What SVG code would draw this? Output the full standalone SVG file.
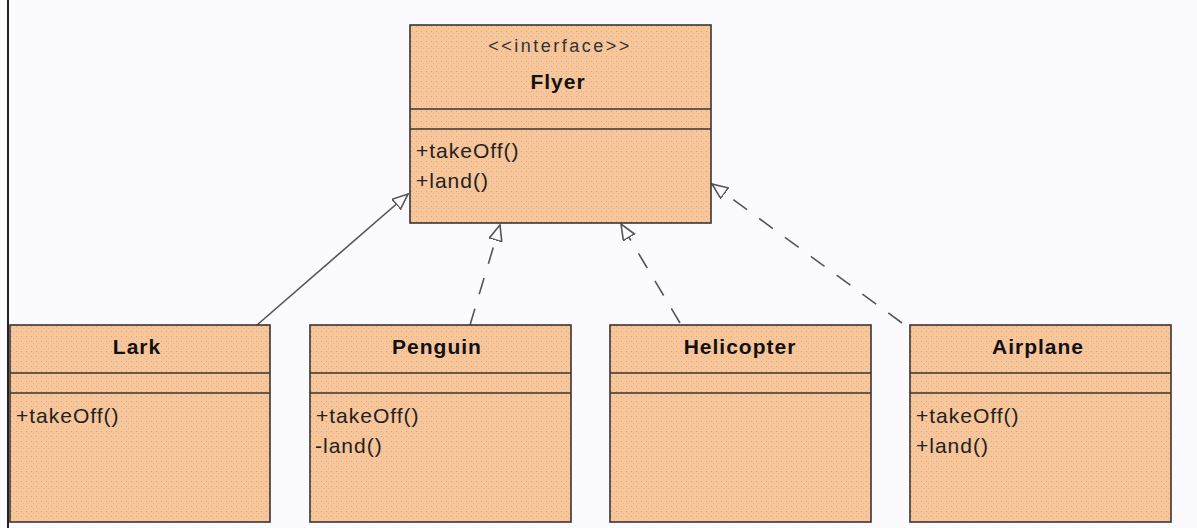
<svg xmlns="http://www.w3.org/2000/svg" width="1197" height="528" viewBox="0 0 1197 528">
<style>
.box{fill:url(#stip);stroke:#3b3530;stroke-width:1.6}
.div{stroke:#3b3530;stroke-width:1.6}
.t{font-family:"Liberation Sans",Arial,sans-serif;font-size:21px;fill:#111;letter-spacing:1px}
.b{font-weight:bold;text-anchor:middle}
.st{font-size:18px;fill:#333;text-anchor:middle;letter-spacing:2.5px}
.m{fill:#222}
.c{fill:none;stroke:#555;stroke-width:1.6}
.d{stroke-dasharray:17,15}
</style>
<defs>
<pattern id="stip" width="5" height="5" patternUnits="userSpaceOnUse">
<rect width="5" height="5" fill="#f8c69b"/>
<rect x="1" y="1" width="1" height="1" fill="#d9a47c"/>
<rect x="3" y="3" width="1" height="1" fill="#e9b58c"/>
</pattern>
<marker id="tri" markerUnits="userSpaceOnUse" markerWidth="20" markerHeight="20" refX="16" refY="7" orient="auto">
<path d="M0.5,0.5 L16,7 L0.5,13.5 Z" fill="#fbfaff" stroke="#555" stroke-width="1.6"/>
</marker>
</defs>
<rect width="1197" height="528" fill="#fbfaff"/>
<line x1="8" y1="0" x2="8" y2="528" stroke="#222" stroke-width="2"/>
<g id="connectors">
<line class="c" x1="257" y1="325" x2="408" y2="194" marker-end="url(#tri)"/>
<line class="c d" x1="470" y1="325" x2="500" y2="225" marker-end="url(#tri)"/>
<line class="c d" x1="680" y1="323" x2="621" y2="224" marker-end="url(#tri)"/>
<line class="c d" x1="902" y1="323" x2="712" y2="184" marker-end="url(#tri)"/>
</g>
<g id="flyer">
<rect class="box" x="410" y="25" width="301" height="198"/>
<line class="div" x1="410" y1="109" x2="711" y2="109"/>
<line class="div" x1="410" y1="129" x2="711" y2="129"/>
<text class="t st" x="560" y="52">&lt;&lt;interface&gt;&gt;</text>
<text class="t b" x="558" y="89">Flyer</text>
<text class="t m" x="416" y="158">+takeOff()</text>
<text class="t m" x="416" y="188">+land()</text>
</g>
<g id="lark">
<rect class="box" x="10" y="325" width="260" height="197"/>
<line class="div" x1="10" y1="373" x2="270" y2="373"/>
<line class="div" x1="10" y1="393" x2="270" y2="393"/>
<text class="t b" x="137" y="354">Lark</text>
<text class="t m" x="16" y="423">+takeOff()</text>
</g>
<g id="penguin">
<rect class="box" x="310" y="325" width="261" height="197"/>
<line class="div" x1="310" y1="373" x2="571" y2="373"/>
<line class="div" x1="310" y1="393" x2="571" y2="393"/>
<text class="t b" x="437" y="354">Penguin</text>
<text class="t m" x="316" y="423">+takeOff()</text>
<text class="t m" x="315" y="453">-land()</text>
</g>
<g id="helicopter">
<rect class="box" x="610" y="325" width="261" height="197"/>
<line class="div" x1="610" y1="373" x2="871" y2="373"/>
<line class="div" x1="610" y1="393" x2="871" y2="393"/>
<text class="t b" x="740" y="354">Helicopter</text>
</g>
<g id="airplane">
<rect class="box" x="910" y="325" width="261" height="197"/>
<line class="div" x1="910" y1="373" x2="1171" y2="373"/>
<line class="div" x1="910" y1="393" x2="1171" y2="393"/>
<text class="t b" x="1038" y="354">Airplane</text>
<text class="t m" x="916" y="423">+takeOff()</text>
<text class="t m" x="916" y="453">+land()</text>
</g>
</svg>
